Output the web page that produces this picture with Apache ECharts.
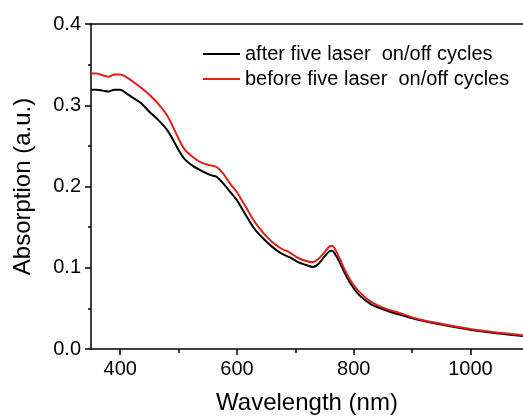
<!DOCTYPE html>
<html>
<head>
<meta charset="utf-8">
<script src="https://cdn.jsdelivr.net/npm/echarts@6/dist/echarts.min.js"></script>
<style>
  html, body { margin: 0; padding: 0; background: #fff; }
  #chart { width: 523px; height: 420px; }
</style>
</head>
<body>
<div id="chart"></div>
<script>
const wavelength = [
  350, 360, 370, 380, 390, 400, 410, 420, 435, 450, 465, 480, 490, 500, 510,
  525, 540, 555, 565, 575, 590, 600, 615, 630, 645, 660, 675, 690, 705, 720,
  730, 740, 750, 758, 763, 768, 775, 785, 795, 810, 830, 850, 880, 910, 950,
  980, 1015, 1050, 1090,
];
const after = [
  0.319, 0.319, 0.318, 0.317, 0.319, 0.319, 0.315, 0.31, 0.303, 0.292, 0.282,
  0.27, 0.258, 0.245, 0.234, 0.225, 0.219, 0.214, 0.212, 0.205, 0.192, 0.183,
  0.165, 0.148, 0.136, 0.126, 0.118, 0.113, 0.107, 0.103, 0.101, 0.105, 0.114,
  0.12, 0.121, 0.117, 0.108, 0.093, 0.08, 0.066, 0.055, 0.049, 0.042, 0.036,
  0.03, 0.026, 0.022, 0.019, 0.016,
];
const before = [
  0.339, 0.339, 0.337, 0.335, 0.338, 0.338, 0.335, 0.33, 0.322, 0.313, 0.302,
  0.288, 0.274, 0.259, 0.246, 0.236, 0.229, 0.226, 0.224, 0.217, 0.202, 0.193,
  0.175, 0.157, 0.143, 0.132, 0.124, 0.119, 0.112, 0.108, 0.107, 0.111, 0.119,
  0.126, 0.127, 0.123, 0.113, 0.097, 0.084, 0.07, 0.058, 0.051, 0.044, 0.037,
  0.031, 0.027, 0.023, 0.02, 0.017,
];
const xMajor = [400, 600, 800, 1000];
const xMinor = [500, 700, 900];

const font = "'Liberation Sans', Arial, sans-serif";
const axisLine = { show: true, lineStyle: { color: "#000", width: 1.5 } };

const chart = echarts.init(document.getElementById("chart"));
chart.setOption({
  animation: false,
  grid: { left: 91, right: 0, top: 24, bottom: 70 },
  legend: {
    orient: "vertical",
    left: 198,
    top: 39,
    itemWidth: 37,
    itemHeight: 2,
    itemGap: 5,
    icon: "rect",
    textStyle: { fontFamily: font, fontSize: 20, color: "#000" },
  },
  xAxis: [
    {
      type: "value",
      min: 350,
      max: 1090,
      position: "bottom",
      name: "Wavelength (nm)",
      nameLocation: "middle",
      nameGap: 42,
      nameTextStyle: { fontFamily: font, fontSize: 24, color: "#000" },
      axisLine,
      axisTick: { customValues: xMajor, length: 6, lineStyle: { color: "#000", width: 1.5 } },
      axisLabel: {
        customValues: xMajor,
        margin: 10,
        fontFamily: font,
        fontSize: 20,
        color: "#000",
        formatter: (v) => String(v),
      },
      splitLine: { show: false },
    },
    {
      type: "value",
      min: 350,
      max: 1090,
      position: "top",
      axisLine,
      axisTick: { show: false },
      axisLabel: { show: false },
      splitLine: { show: false },
    },
    {
      type: "value",
      min: 350,
      max: 1090,
      position: "bottom",
      axisLine: { show: false },
      axisTick: { customValues: xMinor, length: 4, lineStyle: { color: "#000", width: 1.5 } },
      axisLabel: { show: false },
      splitLine: { show: false },
    },
  ],
  yAxis: {
    type: "value",
    min: 0,
    max: 0.4,
    interval: 0.1,
    name: "Absorption (a.u.)",
    nameLocation: "middle",
    nameGap: 56,
    nameTextStyle: { fontFamily: font, fontSize: 24, color: "#000" },
    axisLine,
    axisTick: { length: 6, lineStyle: { color: "#000", width: 1.5 } },
    minorTick: { show: true, splitNumber: 2, length: 3, lineStyle: { color: "#000", width: 1.5 } },
    axisLabel: {
      margin: 10,
      fontFamily: font,
      fontSize: 20,
      color: "#000",
      formatter: (v) => v.toFixed(1),
    },
    splitLine: { show: false },
  },
  series: [
    {
      name: "after five laser  on/off cycles",
      type: "line",
      xAxisIndex: 0,
      smooth: 0.3,
      showSymbol: false,
      itemStyle: { color: "#000" },
      lineStyle: { color: "#000", width: 2 },
      data: wavelength.map((w, i) => [w, after[i]]),
    },
    {
      name: "before five laser  on/off cycles",
      type: "line",
      xAxisIndex: 0,
      smooth: 0.3,
      showSymbol: false,
      itemStyle: { color: "#e0201b" },
      lineStyle: { color: "#e0201b", width: 2 },
      data: wavelength.map((w, i) => [w, before[i]]),
    },
  ],
});
</script>
</body>
</html>
